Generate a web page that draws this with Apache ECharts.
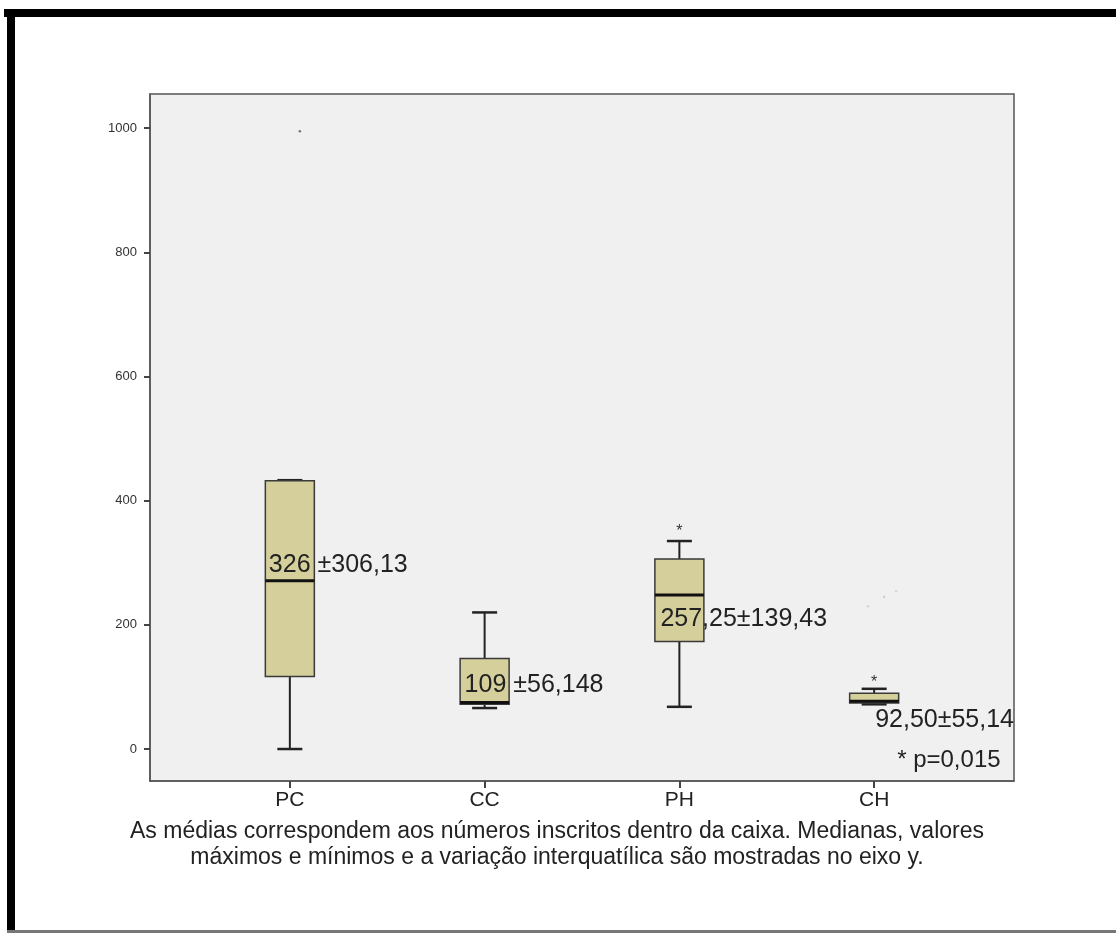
<!DOCTYPE html>
<html>
<head>
<meta charset="utf-8">
<script src="https://cdn.jsdelivr.net/npm/echarts@6/dist/echarts.min.js"></script>
<style>
html,body{margin:0;padding:0;background:#fff;}
#chart{width:1116px;height:933px;}
</style>
</head>
<body>
<div id="chart"></div>
<script>
// ---- data ----
const categories = ['PC', 'CC', 'PH', 'CH'];
const boxMin    = [0,   66,  68,  72];
const boxQ1     = [117, 72,  173, 74];
const boxMedian = [271, 75,  248, 77];
const boxQ3     = [432, 146, 306, 90];
const boxMax    = [433, 220, 335, 97];
const extremeCat = [2, 3];
const extremeVal = [355, 112];
const outlierCat = [0, 3, 3, 3];
const outlierVal = [995, 230, 245, 254];
const annotationText = ['326 ±306,13', '109 ±56,148', '257,25±139,43', '92,50±55,14'];
const annotationVal  = [296, 103, 209, 47];
const pValueText = '* p=0,015';
const pValueVal = -18;
const yTicks = [0, 200, 400, 600, 800, 1000];
const xTicks = [0, 1, 2, 3];
const captionLines = [
  'As médias correspondem aos números inscritos dentro da caixa. Medianas, valores',
  'máximos e mínimos e a variação interquatílica são mostradas no eixo y.'
];

// ---- style (positions in px) ----
const FONT = 'Liberation Sans, Arial, sans-serif';
const BOX_W = 49;
const CAP_W = 25;
const annDx = [-21, -20, -19, 1];
const outlierDx = [10, -6, 10, 22];
const outlierColor = ['#777', '#d6d6d6', '#d0d0d0', '#d6d6d6'];

const boxData = categories.map((c, i) => [i, boxMin[i], boxQ1[i], boxMedian[i], boxQ3[i], boxMax[i]]);
const extremeData = extremeCat.map((c, i) => [c, extremeVal[i]]);
const annData = annotationText.map((t, i) => [i, annotationVal[i]]);

const chart = echarts.init(document.getElementById('chart'), null, {renderer: 'canvas'});

function line(x1, y1, x2, y2, w, c) {
  return {type: 'line', shape: {x1, y1, x2, y2}, style: {stroke: c, lineWidth: w}};
}

const option = {
  backgroundColor: '#ffffff',
  animation: false,
  grid: {
    left: 150, top: 94, right: 102, bottom: 152,
    show: true, backgroundColor: '#f0f0f0', borderColor: '#555', borderWidth: 1.5
  },
  xAxis: {
    type: 'value', min: -0.718, max: 3.718,
    axisLine: {show: true, onZero: false, lineStyle: {color: '#555', width: 1.5}},
    axisTick: {show: true, inside: false, customValues: xTicks, length: 7, lineStyle: {color: '#444', width: 2}},
    axisLabel: {
      customValues: xTicks,
      formatter: v => categories[Math.round(v)] || '',
      fontSize: 21, color: '#222', fontFamily: FONT, margin: 9
    },
    splitLine: {show: false}
  },
  yAxis: {
    type: 'value', min: -51.5, max: 1055,
    axisLine: {show: true, onZero: false, lineStyle: {color: '#555', width: 1.5}},
    axisTick: {show: true, inside: false, customValues: yTicks, length: 6, lineStyle: {color: '#444', width: 2}},
    axisLabel: {customValues: yTicks, formatter: v => String(v), fontSize: 13, color: '#333', fontFamily: FONT, margin: 13},
    splitLine: {show: false}
  },
  series: [
    {
      type: 'custom',
      data: boxData,
      clip: false,
      renderItem: function (params, api) {
        const x = api.value(0);
        const pMin = api.coord([x, api.value(1)]);
        const pQ1 = api.coord([x, api.value(2)]);
        const pMed = api.coord([x, api.value(3)]);
        const pQ3 = api.coord([x, api.value(4)]);
        const pMax = api.coord([x, api.value(5)]);
        const cx = pMed[0];
        return {
          type: 'group',
          children: [
            line(cx, pMax[1], cx, pQ3[1], 2, '#222'),
            line(cx, pQ1[1], cx, pMin[1], 2, '#222'),
            line(cx - CAP_W / 2, pMax[1], cx + CAP_W / 2, pMax[1], 2.5, '#222'),
            line(cx - CAP_W / 2, pMin[1], cx + CAP_W / 2, pMin[1], 2.5, '#222'),
            {
              type: 'rect',
              shape: {x: cx - BOX_W / 2, y: pQ3[1], width: BOX_W, height: pQ1[1] - pQ3[1]},
              style: {fill: '#d5cf9c', stroke: '#3a3a3a', lineWidth: 1.5}
            },
            line(cx - BOX_W / 2, pMed[1], cx + BOX_W / 2, pMed[1], 3, '#111')
          ]
        };
      }
    },
    {
      type: 'custom',
      data: extremeData,
      clip: false,
      renderItem: function (params, api) {
        const p = api.coord([api.value(0), api.value(1)]);
        return {
          type: 'text', x: p[0], y: p[1] + 3,
          style: {text: '*', fill: '#333', font: '16px ' + FONT, align: 'center', verticalAlign: 'middle', textAlign: 'center', textVerticalAlign: 'middle'}
        };
      }
    },
    {
      type: 'custom',
      data: outlierCat.map((c, i) => [c, outlierVal[i]]),
      clip: false,
      renderItem: function (params, api) {
        const p = api.coord([api.value(0), api.value(1)]);
        const i = params.dataIndex;
        return {
          type: 'circle', shape: {cx: p[0] + outlierDx[i], cy: p[1], r: 1.3},
          style: {fill: outlierColor[i]}
        };
      }
    },
    {
      type: 'custom',
      data: annData,
      clip: false,
      z: 5,
      renderItem: function (params, api) {
        const i = params.dataIndex;
        const p = api.coord([api.value(0), api.value(1)]);
        return {
          type: 'text', x: p[0] + annDx[i], y: p[1],
          style: {text: annotationText[i], fill: '#222', font: '25px ' + FONT, align: 'left', verticalAlign: 'middle', textAlign: 'left', textVerticalAlign: 'middle'}
        };
      }
    },
    {
      type: 'custom',
      data: [[3, pValueVal]],
      clip: false,
      renderItem: function (params, api) {
        const p = api.coord([api.value(0), api.value(1)]);
        return {
          type: 'text', x: p[0] + 23, y: p[1],
          style: {text: pValueText, fill: '#222', font: '24px ' + FONT, align: 'left', verticalAlign: 'middle', textAlign: 'left', textVerticalAlign: 'middle'}
        };
      }
    }
  ],
  graphic: [
    {type: 'rect', shape: {x: 4, y: 9, width: 1112, height: 8}, style: {fill: '#000'}},
    {type: 'rect', shape: {x: 7, y: 9, width: 8, height: 924}, style: {fill: '#000'}},
    {type: 'rect', shape: {x: 7, y: 930, width: 1109, height: 3}, style: {fill: '#777'}},
    {type: 'text', x: 557, y: 832, style: {text: captionLines[0], fill: '#222', font: '23px ' + FONT, align: 'center', verticalAlign: 'middle', textAlign: 'center', textVerticalAlign: 'middle'}},
    {type: 'text', x: 557, y: 858, style: {text: captionLines[1], fill: '#222', font: '23px ' + FONT, align: 'center', verticalAlign: 'middle', textAlign: 'center', textVerticalAlign: 'middle'}}
  ]
};
chart.setOption(option);
</script>
</body>
</html>
